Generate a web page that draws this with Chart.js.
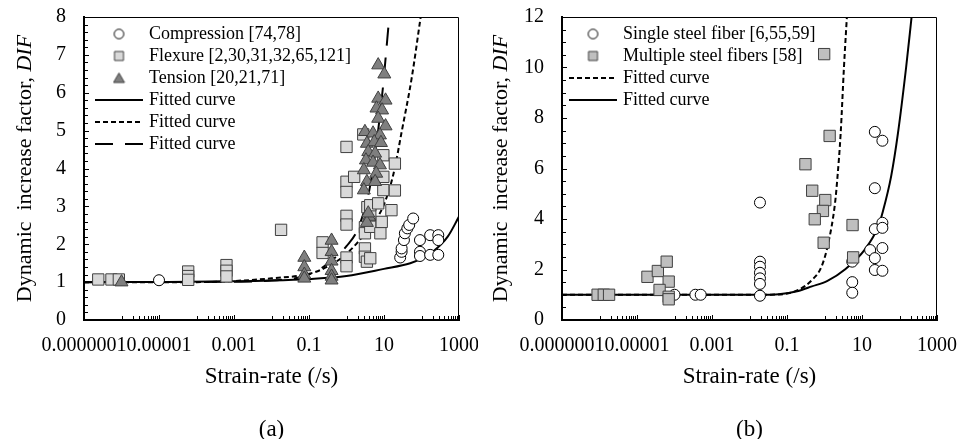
<!DOCTYPE html>
<html><head><meta charset="utf-8">
<script src="https://cdn.jsdelivr.net/npm/chart.js@4.4.1/dist/chart.umd.min.js"></script>
<style>
html,body{margin:0;padding:0;background:#fff;overflow:hidden;width:957px;height:439px;}
#wa{position:absolute;left:0;top:0;width:478px;height:439px;}
#wb{position:absolute;left:478px;top:0;width:479px;height:439px;}
canvas{display:block;}
</style></head><body>
<div id="wa"><canvas id="ca" width="478" height="439"></canvas></div>
<div id="wb"><canvas id="cb" width="479" height="439"></canvas></div>
<script>
// ---------- axis ticks ----------
const xTickVals = [1e-7, 1e-5, 1e-3, 1e-1, 10, 1000];
const xTickLabels = ['0.0000001', '0.00001', '0.001', '0.1', '10', '1000'];
const yTicksA = [0, 1, 2, 3, 4, 5, 6, 7, 8];
const yTicksB = [0, 2, 4, 6, 8, 10, 12];

// ---------- panel (a) ----------
const compRate = [1e-5, 27, 29.5, 29.5, 34, 36, 42, 47, 60, 91, 91, 91, 170, 170, 280, 280, 280];
const compDIF  = [1.05, 1.65, 1.80, 1.89, 2.11, 2.29, 2.42, 2.51, 2.68, 2.11, 1.80, 1.69, 2.24, 1.72, 2.24, 2.11, 1.72];

const flexRate = [2.4e-7, 5.4e-7, 8.5e-7, 6e-5, 6e-5, 6e-5, 6.3e-4, 6.3e-4, 6.3e-4, 0.018, 0.23, 0.23,
  1.0, 1.0, 1.0, 1.0, 1.0, 1.0, 1.0, 1.6, 2.8, 3.1, 3.1, 3.1, 3.1, 3.5, 4.3, 3.6, 4.3, 4.3, 4.3,
  7.0, 8.7, 8.0, 15.8, 9.6, 9.6, 9.6, 19.5, 19.5];
const flexDIF  = [1.07, 1.07, 1.07, 1.28, 1.16, 1.06, 1.45, 1.30, 1.15, 2.38, 2.05, 1.77,
  4.57, 3.65, 3.38, 2.75, 2.52, 1.65, 1.42, 3.78, 4.90, 2.45, 2.29, 1.89, 1.67, 1.54, 1.63, 2.98, 2.81, 2.46, 3.03,
  3.08, 2.59, 2.29, 2.90, 4.35, 3.78, 3.43, 4.13, 3.42];

const tenRate = [1e-6, 0.075, 0.075, 0.075, 0.075, 0.4, 0.4, 0.4, 0.4, 0.4, 0.4,
  7.0, 10.2, 7.0, 11, 6.3, 8.9, 7.0, 11, 3.1, 5.1, 7.8, 3.5, 5.5, 8.3, 3.8, 5.8, 3.3, 5.1, 7.8, 2.9, 6.2, 3.5, 5.8, 2.9, 4.0, 3.5, 3.8];
const tenDIF  = [1.0, 1.65, 1.40, 1.20, 1.10, 2.10, 1.80, 1.55, 1.30, 1.15, 1.05,
  6.73, 6.49, 5.85, 5.80, 5.59, 5.54, 5.32, 5.12, 4.97, 4.93, 4.88, 4.66, 4.70, 4.68, 4.44, 4.40, 4.22, 4.16, 4.09, 3.96, 3.87, 3.65, 3.65, 3.43, 2.73, 2.57, 2.82];

const fitA1Rate = [1e-7, 1e-5, 1e-3, 0.01, 0.1, 1, 10, 50, 100, 200, 500, 1000];
const fitA1DIF  = [1.0, 1.005, 1.02, 1.04, 1.08, 1.16, 1.35, 1.50, 1.62, 1.80, 2.20, 2.73];
const fitA2Rate = [1e-7, 1e-4, 1e-3, 0.01, 0.1, 0.3, 1, 3.5, 9.5, 17.8, 30, 55, 95];
const fitA2DIF  = [1.0, 1.0, 1.03, 1.10, 1.22, 1.40, 1.75, 2.35, 3.0, 3.85, 5.0, 6.4, 8.0];
const fitA3Rate = [1e-7, 1e-3, 0.01, 0.07, 0.2, 0.5, 1, 2, 4, 6, 8, 9.6, 11, 12.2, 13.8];
const fitA3DIF  = [1.0, 1.01, 1.04, 1.15, 1.35, 1.65, 1.95, 2.4, 3.4, 4.5, 5.5, 6.25, 6.9, 7.4, 8.0];

// ---------- panel (b) ----------
const singleRate = [1e-4, 3.6e-4, 5e-4, 0.019, 0.019, 0.019, 0.019, 0.019, 0.019, 0.019,
  5.5, 5.5, 5.5, 16.5, 22, 22, 22, 22, 22, 35, 35, 35, 35, 35];
const singleDIF  = [1.0, 1.0, 1.0, 4.65, 2.31, 2.11, 1.87, 1.65, 1.43, 0.96,
  2.31, 1.50, 1.08, 2.77, 7.45, 5.22, 3.60, 2.45, 1.98, 7.10, 3.85, 3.65, 2.85, 1.95];

const multiRate = [8.9e-7, 1.3e-6, 1.8e-6, 1.9e-5, 3.6e-5, 6.2e-5, 7e-5, 4e-5, 7e-5, 7e-5,
  0.98, 1.37, 0.31, 0.47, 1.05, 0.91, 0.55, 0.95, 5.6, 5.8];
const multiDIF  = [1.0, 1.0, 1.0, 1.71, 1.94, 2.31, 1.52, 1.19, 0.92, 0.82,
  10.53, 7.29, 6.17, 5.12, 4.75, 4.32, 3.99, 3.06, 3.76, 2.48];

const fitB1Rate = [1e-7, 0.01, 0.06, 0.2, 0.46, 0.83, 1.26, 1.9, 2.2, 2.7, 3.3, 3.95];
const fitB1DIF  = [1.0, 1.0, 1.01, 1.19, 1.58, 2.11, 3.04, 4.6, 5.6, 7.4, 10.0, 12.0];
const fitB2Rate = [1e-7, 0.02, 0.06, 0.2, 0.46, 1.2, 3.5, 12, 27, 36, 60, 91, 150, 210];
const fitB2DIF  = [1.0, 1.0, 1.02, 1.15, 1.33, 1.55, 2.0, 2.8, 3.7, 4.3, 5.7, 7.4, 10.0, 12.0];

// ---------- helpers ----------
const FONT = '"Liberation Serif", "Times New Roman", serif';
const pts = (xs, ys) => xs.map((x, i) => ({ x: x, y: ys[i] }));

function keyImg(w, h, draw) {
  const c = document.createElement('canvas'); c.width = w; c.height = h;
  const g = c.getContext('2d'); draw(g, w, h); return c;
}
function keyMarker(style, fill, stroke) {
  return keyImg(13, 13, (g) => {
    g.fillStyle = fill; g.strokeStyle = stroke; g.lineWidth = 1;
    g.beginPath();
    if (style === 'circle') g.arc(6.5, 6.5, 4.8, 0, Math.PI * 2);
    else if (style === 'rect') g.rect(2, 2, 9, 9);
    else { g.moveTo(6.5, 1.5); g.lineTo(12, 11); g.lineTo(1, 11); g.closePath(); }
    g.fill(); g.stroke();
  });
}
function keyLine(dash) {
  return keyImg(48, 4, (g) => {
    g.strokeStyle = '#000'; g.lineWidth = 2; g.setLineDash(dash);
    g.beginPath(); g.moveTo(0, 2); g.lineTo(48, 2); g.stroke();
  });
}

function scatterDs(label, xs, ys, style, fill, stroke, radius, order) {
  return { label, data: pts(xs, ys), showLine: false, pointStyle: style,
    pointRadius: radius, pointBackgroundColor: fill, pointBorderColor: stroke, pointBorderWidth: 1,
    backgroundColor: fill, borderColor: stroke, borderWidth: 1, order,
    legendKey: keyMarker(style, fill, stroke) };
}
function curveDs(label, xs, ys, dash) {
  return { label, data: pts(xs, ys), showLine: true, pointRadius: 0, pointStyle: 'line',
    borderColor: '#000', backgroundColor: '#000', borderWidth: 2, borderDash: dash,
    cubicInterpolationMode: 'monotone', fill: false, order: 10, legendKey: keyLine(dash) };
}

const framePlugin = {
  id: 'framePlugin',
  afterLayout(chart, args, o) {
    if (chart.legend) { chart.legend.left += o.legendDX; chart.legend.top += o.legendDY; }
  },
  afterDraw(chart, args, o) {
    const { ctx, chartArea: a } = chart;
    const x = chart.scales.x, y = chart.scales.y;
    ctx.save();
    ctx.strokeStyle = '#000';
    ctx.lineWidth = 1;
    ctx.beginPath();
    ctx.moveTo(a.left, Math.round(a.top) + 0.5);
    ctx.lineTo(Math.round(a.right) - 0.5, Math.round(a.top) + 0.5);
    ctx.lineTo(Math.round(a.right) - 0.5, a.bottom);
    ctx.stroke();
    const yt = o.yTicks;
    ctx.beginPath();
    for (let i = 0; i < yt.length; i++) {
      const py = Math.round(y.getPixelForValue(yt[i])) + 0.5;
      ctx.moveTo(a.left, py); ctx.lineTo(a.left + 5, py);
      if (i < yt.length - 1) {
        for (let k = 1; k < o.ySub; k++) {
          const v = yt[i] + (yt[i + 1] - yt[i]) * k / o.ySub;
          const p = Math.round(y.getPixelForValue(v)) + 0.5;
          ctx.moveTo(a.left, p); ctx.lineTo(a.left + 4, p);
        }
      }
    }
    for (let i = 0; i < xTickVals.length; i++) {
      const px = Math.round(x.getPixelForValue(xTickVals[i])) + 0.5;
      ctx.moveTo(px, a.bottom); ctx.lineTo(px, a.bottom - 5);
      if (i < xTickVals.length - 1) {
        for (let m = 1; m <= 9; m++) {
          const p = Math.round(x.getPixelForValue(m * xTickVals[i] * 10)) + 0.5;
          ctx.moveTo(p, a.bottom); ctx.lineTo(p, a.bottom - 4);
        }
      }
    }
    ctx.stroke();
    const f1 = '22px ' + FONT, f2 = 'italic 22px ' + FONT;
    ctx.font = f1; const w1 = ctx.measureText(o.yTitle).width;
    ctx.font = f2; const w2 = ctx.measureText(o.yTitleItalic).width;
    ctx.translate(o.yTitleX, (a.top + a.bottom) / 2);
    ctx.rotate(-Math.PI / 2);
    ctx.textBaseline = 'middle'; ctx.textAlign = 'left'; ctx.fillStyle = '#000';
    ctx.font = f1; ctx.fillText(o.yTitle, -(w1 + w2) / 2, 0);
    ctx.font = f2; ctx.fillText(o.yTitleItalic, -(w1 + w2) / 2 + w1, 0);
    ctx.restore();
  }
};

function genLabels(chart) {
  const items = Chart.defaults.plugins.legend.labels.generateLabels(chart);
  return items.map(it => {
    const ds = chart.data.datasets[it.datasetIndex];
    it.pointStyle = ds.legendKey;
    it.lineDash = []; it.lineWidth = 1;
    return it;
  });
}

function makeChart(id, datasets, yMax, yTicks, ySub, panel, yTitleX, padRight, legendDX) {
  return new Chart(document.getElementById(id), {
    type: 'scatter',
    data: { datasets },
    plugins: [framePlugin],
    options: {
      responsive: false, animation: false, events: [], devicePixelRatio: 1,
      layout: { padding: { left: 0, right: padRight, top: 17, bottom: 0 } },
      plugins: {
        tooltip: { enabled: false },
        legend: {
          position: 'chartArea', align: 'start',
          labels: {
            usePointStyle: true, pointStyleWidth: 42, boxHeight: 7, padding: 4,
            color: '#000', font: { family: FONT, size: 18 },
            generateLabels: genLabels,
            sort: (a, b) => a.datasetIndex - b.datasetIndex
          }
        },
        framePlugin: { legendDX, legendDY: 21, yTicks, ySub, yTitle: 'Dynamic  increase factor, ', yTitleItalic: 'DIF', yTitleX }
      },
      scales: {
        x: {
          type: 'logarithmic', min: 1e-7, max: 1000,
          afterBuildTicks: s => { s.ticks = xTickVals.map(v => ({ value: v, major: true })); },
          afterFit: s => { s.height = 119; s.paddingLeft = 0; s.paddingRight = 0; },
          grid: { display: false, drawTicks: false },
          border: { display: true, color: '#000', width: 2 },
          ticks: { autoSkip: false, maxRotation: 0, minRotation: 0, padding: 14, color: '#000',
            font: { family: FONT, size: 20 }, callback: (v, i) => xTickLabels[i] },
          title: { display: true, text: ['Strain-rate (/s)', '', panel], color: '#000',
            font: { family: FONT, size: 23, lineHeight: 1.152 }, padding: { top: 0, bottom: -4 } }
        },
        y: {
          type: 'linear', min: 0, max: yMax,
          afterBuildTicks: s => { s.ticks = yTicks.map(v => ({ value: v })); },
          afterFit: s => { s.width = 84; s.paddingTop = 0; s.paddingBottom = 0; },
          grid: { display: false, drawTicks: false },
          border: { display: true, color: '#000', width: 2 },
          ticks: { padding: 18, color: '#000', font: { family: FONT, size: 20 }, callback: v => String(v) }
        }
      }
    }
  });
}

makeChart('ca', [
  scatterDs('Compression [74,78]', compRate, compDIF, 'circle', '#ffffff', '#000000', 5.5, 3),
  scatterDs('Flexure [2,30,31,32,65,121]', flexRate, flexDIF, 'rect', '#d9d9d9', '#404040', 8, 2),
  scatterDs('Tension [20,21,71]', tenRate, tenDIF, 'triangle', '#7f7f7f', '#404040', 7.5, 1),
  curveDs('Fitted curve', fitA1Rate, fitA1DIF, []),
  curveDs('Fitted curve', fitA2Rate, fitA2DIF, [5, 3]),
  curveDs('Fitted curve', fitA3Rate, fitA3DIF, [18, 12])
], 8, yTicksA, 5, '(a)', 25, 19, 10);

makeChart('cb', [
  scatterDs('Single steel fiber [6,55,59]', singleRate, singleDIF, 'circle', '#ffffff', '#000000', 5.5, 2),
  scatterDs('Multiple steel fibers [58]', multiRate, multiDIF, 'rect', '#bfbfbf', '#404040', 8, 1),
  curveDs('Fitted curve', fitB1Rate, fitB1DIF, [5, 3]),
  curveDs('Fitted curve', fitB2Rate, fitB2DIF, [])
], 12, yTicksB, 4, '(b)', 23, 20, 6);
</script>
</body></html>
